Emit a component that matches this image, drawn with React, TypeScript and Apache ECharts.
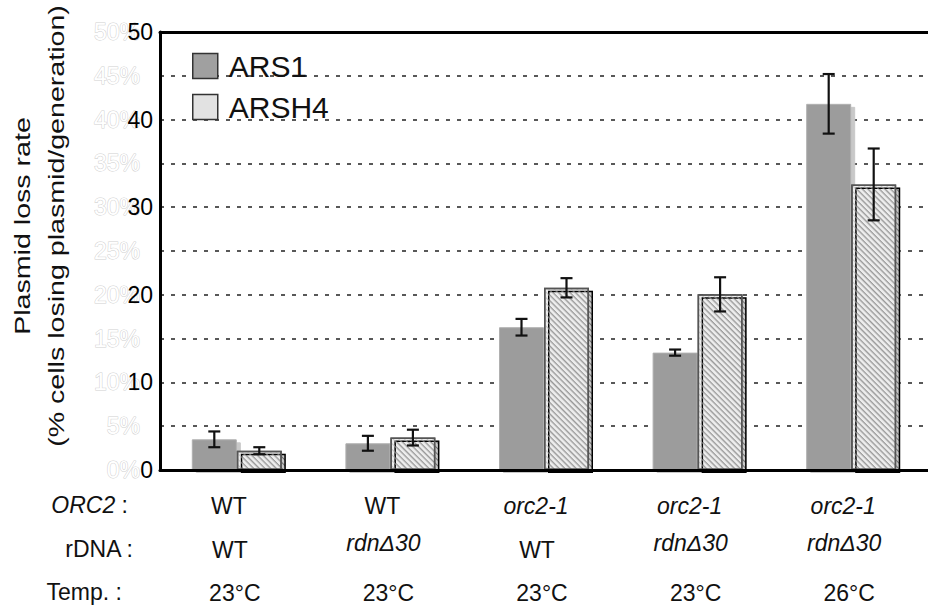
import React, { useEffect, useRef } from 'react';
import * as echarts from 'echarts';

const groups = ['g1', 'g2', 'g3', 'g4', 'g5'];
const orc2Labels = ['WT', 'WT', 'orc2-1', 'orc2-1', 'orc2-1'];
const rdnaLabels = ['WT', 'rdnΔ30', 'WT', 'rdnΔ30', 'rdnΔ30'];
const tempLabels = ['23°C', '23°C', '23°C', '23°C', '26°C'];
const seriesNames = ['ARS1', 'ARSH4'];
const ars1Values = [3.5, 3.05, 16.3, 13.4, 41.8];
const ars1Errors = [0.9, 0.85, 0.95, 0.35, 3.4];
const arsh4Values = [2.2, 3.7, 20.8, 20.05, 32.6];
const arsh4Errors = [0.4, 0.9, 1.1, 1.95, 4.1];
const yTitle = 'Plasmid loss rate\n(% cells losing plasmid/generation)';
const rowHeaders = ['{i|ORC2} :', 'rDNA :', 'Temp. :'];

const FONT = '"Liberation Sans", Arial, Helvetica, sans-serif';
const BAR_W = 45;

export default function App() {
  const ref = useRef<HTMLDivElement>(null);
  useEffect(() => {
    if (!ref.current) return;
    const chart = echarts.init(ref.current, null, { renderer: 'svg' });

    const errData: number[][] = [];
    ars1Values.forEach((v, i) => errData.push([i, v, ars1Errors[i], 0]));
    arsh4Values.forEach((v, i) => errData.push([i, v, arsh4Errors[i], 1]));

    const rowAxisBase = {
      type: 'category',
      position: 'bottom',
      axisTick: { show: false },
      axisLine: { show: false },
      splitLine: { show: false },
    };

    const noShadow = { shadowBlur: 0, shadowOffsetX: 0, shadowOffsetY: 0, shadowColor: 'transparent' };

    const option: any = {
      animation: false,
      backgroundColor: '#fff',
      textStyle: { fontFamily: FONT },
      grid: { left: 160, top: 32, right: -7, bottom: 139, containLabel: false },
      legend: {
        orient: 'vertical',
        left: 187,
        top: 46,
        itemWidth: 25,
        itemHeight: 25,
        itemGap: 11,
        textStyle: { fontSize: 30, color: '#111', fontFamily: FONT, padding: [0, 0, 0, 6] },
        data: [
          { name: seriesNames[0], icon: 'rect', itemStyle: { color: '#a0a0a0', borderColor: '#333', borderWidth: 1.5, ...noShadow } },
          { name: seriesNames[1], icon: 'rect', itemStyle: { color: '#e2e2e2', borderColor: '#333', borderWidth: 1.5, decal: 'none', ...noShadow } },
        ],
      },
      xAxis: [
        {
          ...rowAxisBase,
          z: 4,
          data: groups.map((g, i) => ({ value: g, textStyle: { fontStyle: orc2Labels[i] === 'WT' ? 'normal' : 'italic' } })),
          axisLine: { show: true, onZero: false, lineStyle: { color: '#000', width: 3 } },
          axisLabel: {
            interval: 0,
            margin: 24,
            fontSize: 23,
            color: '#111',
            fontFamily: FONT,
            padding: [0, 16, 0, 0],
            formatter: (_v: string, i: number) => orc2Labels[i],
          },
        },
        {
          ...rowAxisBase,
          data: groups.map((g, i) => ({
            value: g,
            textStyle: rdnaLabels[i] === 'WT' ? { fontStyle: 'normal', padding: [7, 14, 0, 0] } : { fontStyle: 'italic', padding: [0, 14, 0, 0] },
          })),
          axisLabel: {
            interval: 0,
            margin: 61,
            fontSize: 23,
            color: '#111',
            fontFamily: FONT,
            formatter: (_v: string, i: number) => rdnaLabels[i],
          },
        },
        {
          ...rowAxisBase,
          data: groups,
          axisLabel: {
            interval: 0,
            margin: 111,
            fontSize: 23,
            color: '#111',
            fontFamily: FONT,
            padding: [0, 4, 0, 0],
            formatter: (_v: string, i: number) => tempLabels[i],
          },
        },
        {
          ...rowAxisBase,
          position: 'top',
          z: 4,
          data: groups,
          axisLine: { show: true, onZero: false, lineStyle: { color: '#000', width: 3 } },
          axisLabel: { show: false },
        },
      ],
      yAxis: [
        {
          type: 'value',
          min: 0,
          max: 50,
          interval: 10,
          position: 'left',
          z: 4,
          axisLine: { show: true, lineStyle: { color: '#000', width: 3 } },
          axisTick: { show: false },
          splitLine: { show: false },
          axisLabel: { margin: 7, fontSize: 23, color: '#000', fontFamily: FONT },
        },
        {
          type: 'value',
          min: 0,
          max: 50,
          interval: 5,
          position: 'left',
          z: 1,
          axisLine: { show: false },
          axisTick: { show: false },
          splitLine: { show: true, lineStyle: { color: '#222', width: 1.5, type: [4, 7] } },
          axisLabel: {
            margin: 20,
            fontSize: 23,
            color: '#fff',
            textBorderColor: '#d0d0d0',
            textBorderWidth: 1,
            fontFamily: FONT,
            formatter: (v: number) => `${v}%`,
          },
        },
      ],
      graphic: [
        {
          type: 'text',
          x: 39,
          y: 226,
          rotation: Math.PI / 2,
          scaleX: 1.3,
          style: { text: yTitle, fontSize: 22, fontFamily: FONT, fill: '#111', align: 'center', verticalAlign: 'middle', lineHeight: 34 },
        },
        {
          type: 'text',
          x: 128,
          y: 505,
          style: { text: rowHeaders[0], rich: { i: { fontStyle: 'italic', fontSize: 23, fontFamily: FONT, fill: '#111' } }, fontSize: 23, fontFamily: FONT, fill: '#111', align: 'right', verticalAlign: 'middle' },
        },
        {
          type: 'text',
          x: 133,
          y: 549,
          style: { text: rowHeaders[1], fontSize: 23, fontFamily: FONT, fill: '#111', align: 'right', verticalAlign: 'middle' },
        },
        {
          type: 'text',
          x: 122,
          y: 592,
          style: { text: rowHeaders[2], fontSize: 23, fontFamily: FONT, fill: '#111', align: 'right', verticalAlign: 'middle' },
        },
      ],
      series: [
        {
          name: seriesNames[0],
          type: 'bar',
          xAxisIndex: 0,
          yAxisIndex: 0,
          barWidth: BAR_W,
          barGap: '0%',
          data: ars1Values,
          itemStyle: {
            color: '#9c9c9c',
            borderColor: '#b0b0b0',
            borderWidth: 1,
            shadowColor: '#c8c8c8',
            shadowBlur: 0,
            shadowOffsetX: 4,
            shadowOffsetY: 3,
          },
        },
        {
          name: seriesNames[1],
          type: 'bar',
          xAxisIndex: 0,
          yAxisIndex: 0,
          barWidth: BAR_W,
          barGap: '0%',
          data: arsh4Values,
          itemStyle: {
            color: '#ededed',
            borderColor: '#555',
            borderWidth: 1.5,
            shadowColor: '#c8c8c8',
            shadowBlur: 0,
            shadowOffsetX: 4,
            shadowOffsetY: 3,
            decal: {
              symbol: 'rect',
              symbolSize: 1,
              dashArrayX: [1, 0],
              dashArrayY: [1, 3],
              rotation: Math.PI / 4,
              color: 'rgba(150,150,150,0.45)',
            },
          },
        },
        {
          type: 'custom',
          xAxisIndex: 0,
          yAxisIndex: 0,
          z: 5,
          silent: true,
          data: errData,
          encode: { x: 0, y: 1 },
          renderItem: (_params: any, api: any) => {
            const cat = api.value(0);
            const mean = api.value(1);
            const err = api.value(2);
            const sIdx = api.value(3);
            const dx = (sIdx === 0 ? -1 : 1) * BAR_W / 2;
            const top = api.coord([cat, mean + err]);
            const bot = api.coord([cat, mean - err]);
            const x = top[0] + dx;
            const cap = 6;
            const style = { stroke: '#111', lineWidth: 2.2 };
            return {
              type: 'group',
              children: [
                { type: 'line', shape: { x1: x, y1: top[1], x2: x, y2: bot[1] }, style },
                { type: 'line', shape: { x1: x - cap, y1: top[1], x2: x + cap, y2: top[1] }, style },
                { type: 'line', shape: { x1: x - cap, y1: bot[1], x2: x + cap, y2: bot[1] }, style },
              ],
            };
          },
        },
      ],
    };

    chart.setOption(option);
    return () => chart.dispose();
  }, []);

  return <div ref={ref} style={{ width: 928, height: 609, position: 'absolute', left: 0, top: 0 }} />;
}
